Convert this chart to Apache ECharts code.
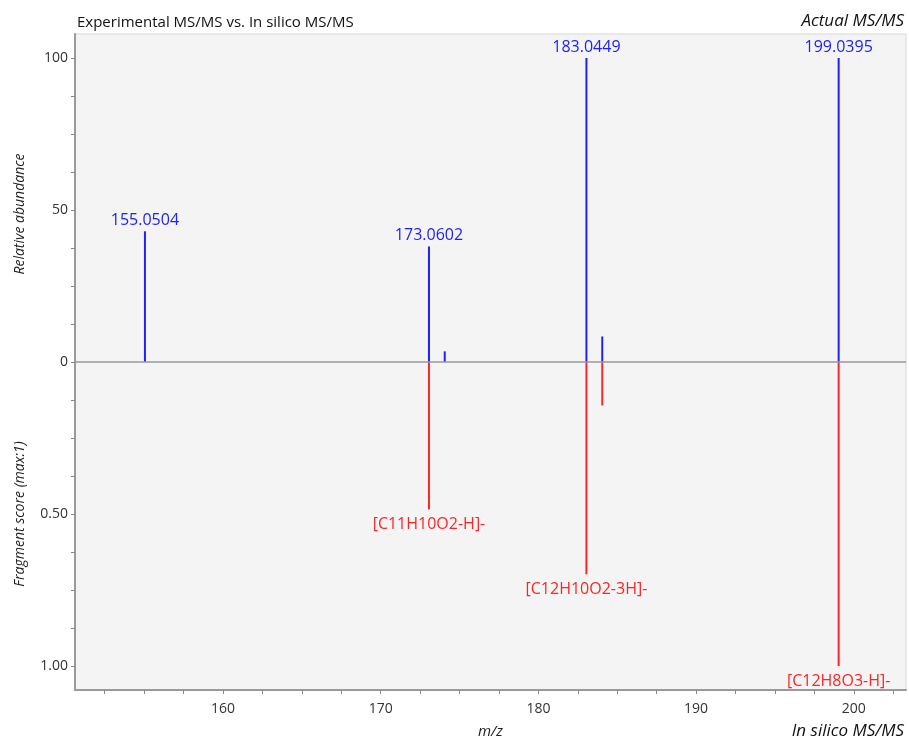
<!DOCTYPE html>
<html>
<head>
<meta charset="utf-8">
<script src="https://cdn.jsdelivr.net/npm/echarts@6/dist/echarts.min.js"></script>
<style>html,body{margin:0;padding:0;background:#fff}#c{width:909px;height:744px}</style>
</head>
<body>
<div id="c"></div>
<script>
// Experimental (actual) MS/MS peaks: m/z and relative abundance (%)
var actualMz = [155.0504, 173.0602, 174.06, 183.0449, 184.05, 199.0395];
var actualAbundance = [43.0, 38.0, 3.5, 100, 8.4, 100];
var actualLabels = ['155.0504', '173.0602', '', '183.0449', '', '199.0395'];

// In silico fragments: m/z and fragment score (max 1)
var silicoMz = [173.0602, 183.0449, 184.05, 199.0395];
var silicoScore = [0.485, 0.698, 0.143, 1.00];
var silicoLabels = ['[C11H10O2-H]-', '[C12H10O2-3H]-', '', '[C12H8O3-H]-'];

// Axis ticks
var xTickValues = [152.5, 155, 157.5, 160, 162.5, 165, 167.5, 170, 172.5, 175, 177.5, 180, 182.5, 185, 187.5, 190, 192.5, 195, 197.5, 200, 202.5];
var xLabelValues = [160, 170, 180, 190, 200];
var yTickValues = [-100, -87.5, -75, -62.5, -50, -37.5, -25, -12.5, 0, 12.5, 25, 37.5, 50, 62.5, 75, 87.5, 100];
var yLabelValues = [-100, -50, 0, 50, 100];

var FONT = '"Open Sans", "Noto Sans", sans-serif';
var BLUE = '#2020ff';
var RED = '#ff2424';

var blueData = actualMz.map(function (m, i) {
  return { value: [m, actualAbundance[i]], label: { show: !!actualLabels[i], formatter: actualLabels[i] } };
});
var redData = silicoMz.map(function (m, i) {
  return { value: [m, -silicoScore[i] * 100], label: { show: !!silicoLabels[i], formatter: silicoLabels[i] } };
});

var chart = echarts.init(document.getElementById('c'), null, { renderer: 'canvas' });
chart.setOption({
  animation: false,
  backgroundColor: '#ffffff',
  textStyle: { fontFamily: FONT },
  title: [
    { text: 'Experimental MS/MS vs. In silico MS/MS', left: 72, top: 10,
      textStyle: { fontFamily: FONT, fontSize: 15, fontWeight: 'normal', color: '#111' } },
    { text: 'Actual MS/MS', right: 0, top: 8,
      textStyle: { fontFamily: FONT, fontSize: 17, fontWeight: 'normal', fontStyle: 'italic', color: '#111' } },
    { text: 'In silico MS/MS', right: 0, bottom: -1,
      textStyle: { fontFamily: FONT, fontSize: 17, fontWeight: 'normal', fontStyle: 'italic', color: '#111' } }
  ],
  grid: { left: 75, right: 3, top: 34, bottom: 50, show: true, backgroundColor: '#f4f4f4', borderColor: '#d6d6d6', borderWidth: 1, containLabel: false },
  xAxis: {
    type: 'value', min: 150.615, max: 203.31,
    name: 'm/z', nameLocation: 'middle', nameGap: 34,
    nameTextStyle: { fontFamily: FONT, fontSize: 15, fontStyle: 'italic', color: '#222' },
    splitLine: { show: false },
    axisLine: { show: true, onZero: false, lineStyle: { color: '#9a9a9a', width: 2 } },
    axisTick: { show: true, customValues: xTickValues, length: 4, lineStyle: { color: '#888' } },
    axisLabel: { customValues: xLabelValues, margin: 12, fontFamily: FONT, fontSize: 14, color: '#333' }
  },
  yAxis: {
    type: 'value', min: -107.9, max: 107.9,
    splitLine: { show: false },
    axisLine: { show: true, onZero: false, lineStyle: { color: '#9a9a9a', width: 2 } },
    axisTick: { show: true, customValues: yTickValues, length: 4, lineStyle: { color: '#888' } },
    axisLabel: {
      customValues: yLabelValues, margin: 7, fontFamily: FONT, fontSize: 14, color: '#333',
      formatter: function (v) { return v > 0 ? String(v) : (v === 0 ? '0' : (-v / 100).toFixed(2)); }
    }
  },
  graphic: [
    { type: 'text', x: 20, y: 214, rotation: Math.PI / 2,
      style: { text: 'Relative abundance', font: 'italic 14px ' + FONT, fill: '#222', align: 'center', verticalAlign: 'middle' } },
    { type: 'text', x: 20, y: 514, rotation: Math.PI / 2,
      style: { text: 'Fragment score (max:1)', font: 'italic 14px ' + FONT, fill: '#222', align: 'center', verticalAlign: 'middle' } }
  ],
  series: [
    {
      name: 'Actual', type: 'bar', barWidth: 2, barGap: '-100%',
      itemStyle: { color: BLUE },
      label: { position: 'top', distance: 3, color: BLUE, fontFamily: FONT, fontSize: 16 },
      data: blueData,
      markLine: {
        silent: true, symbol: 'none', label: { show: false },
        lineStyle: { color: '#999', width: 1.5, type: 'solid' },
        data: [{ yAxis: 0 }]
      },
      z: 3
    },
    {
      name: 'In silico', type: 'bar', barWidth: 2, barGap: '-100%',
      itemStyle: { color: RED },
      label: { position: 'bottom', distance: 7, color: RED, fontFamily: FONT, fontSize: 16 },
      data: redData,
      z: 3
    }
  ]
});
</script>
</body>
</html>
